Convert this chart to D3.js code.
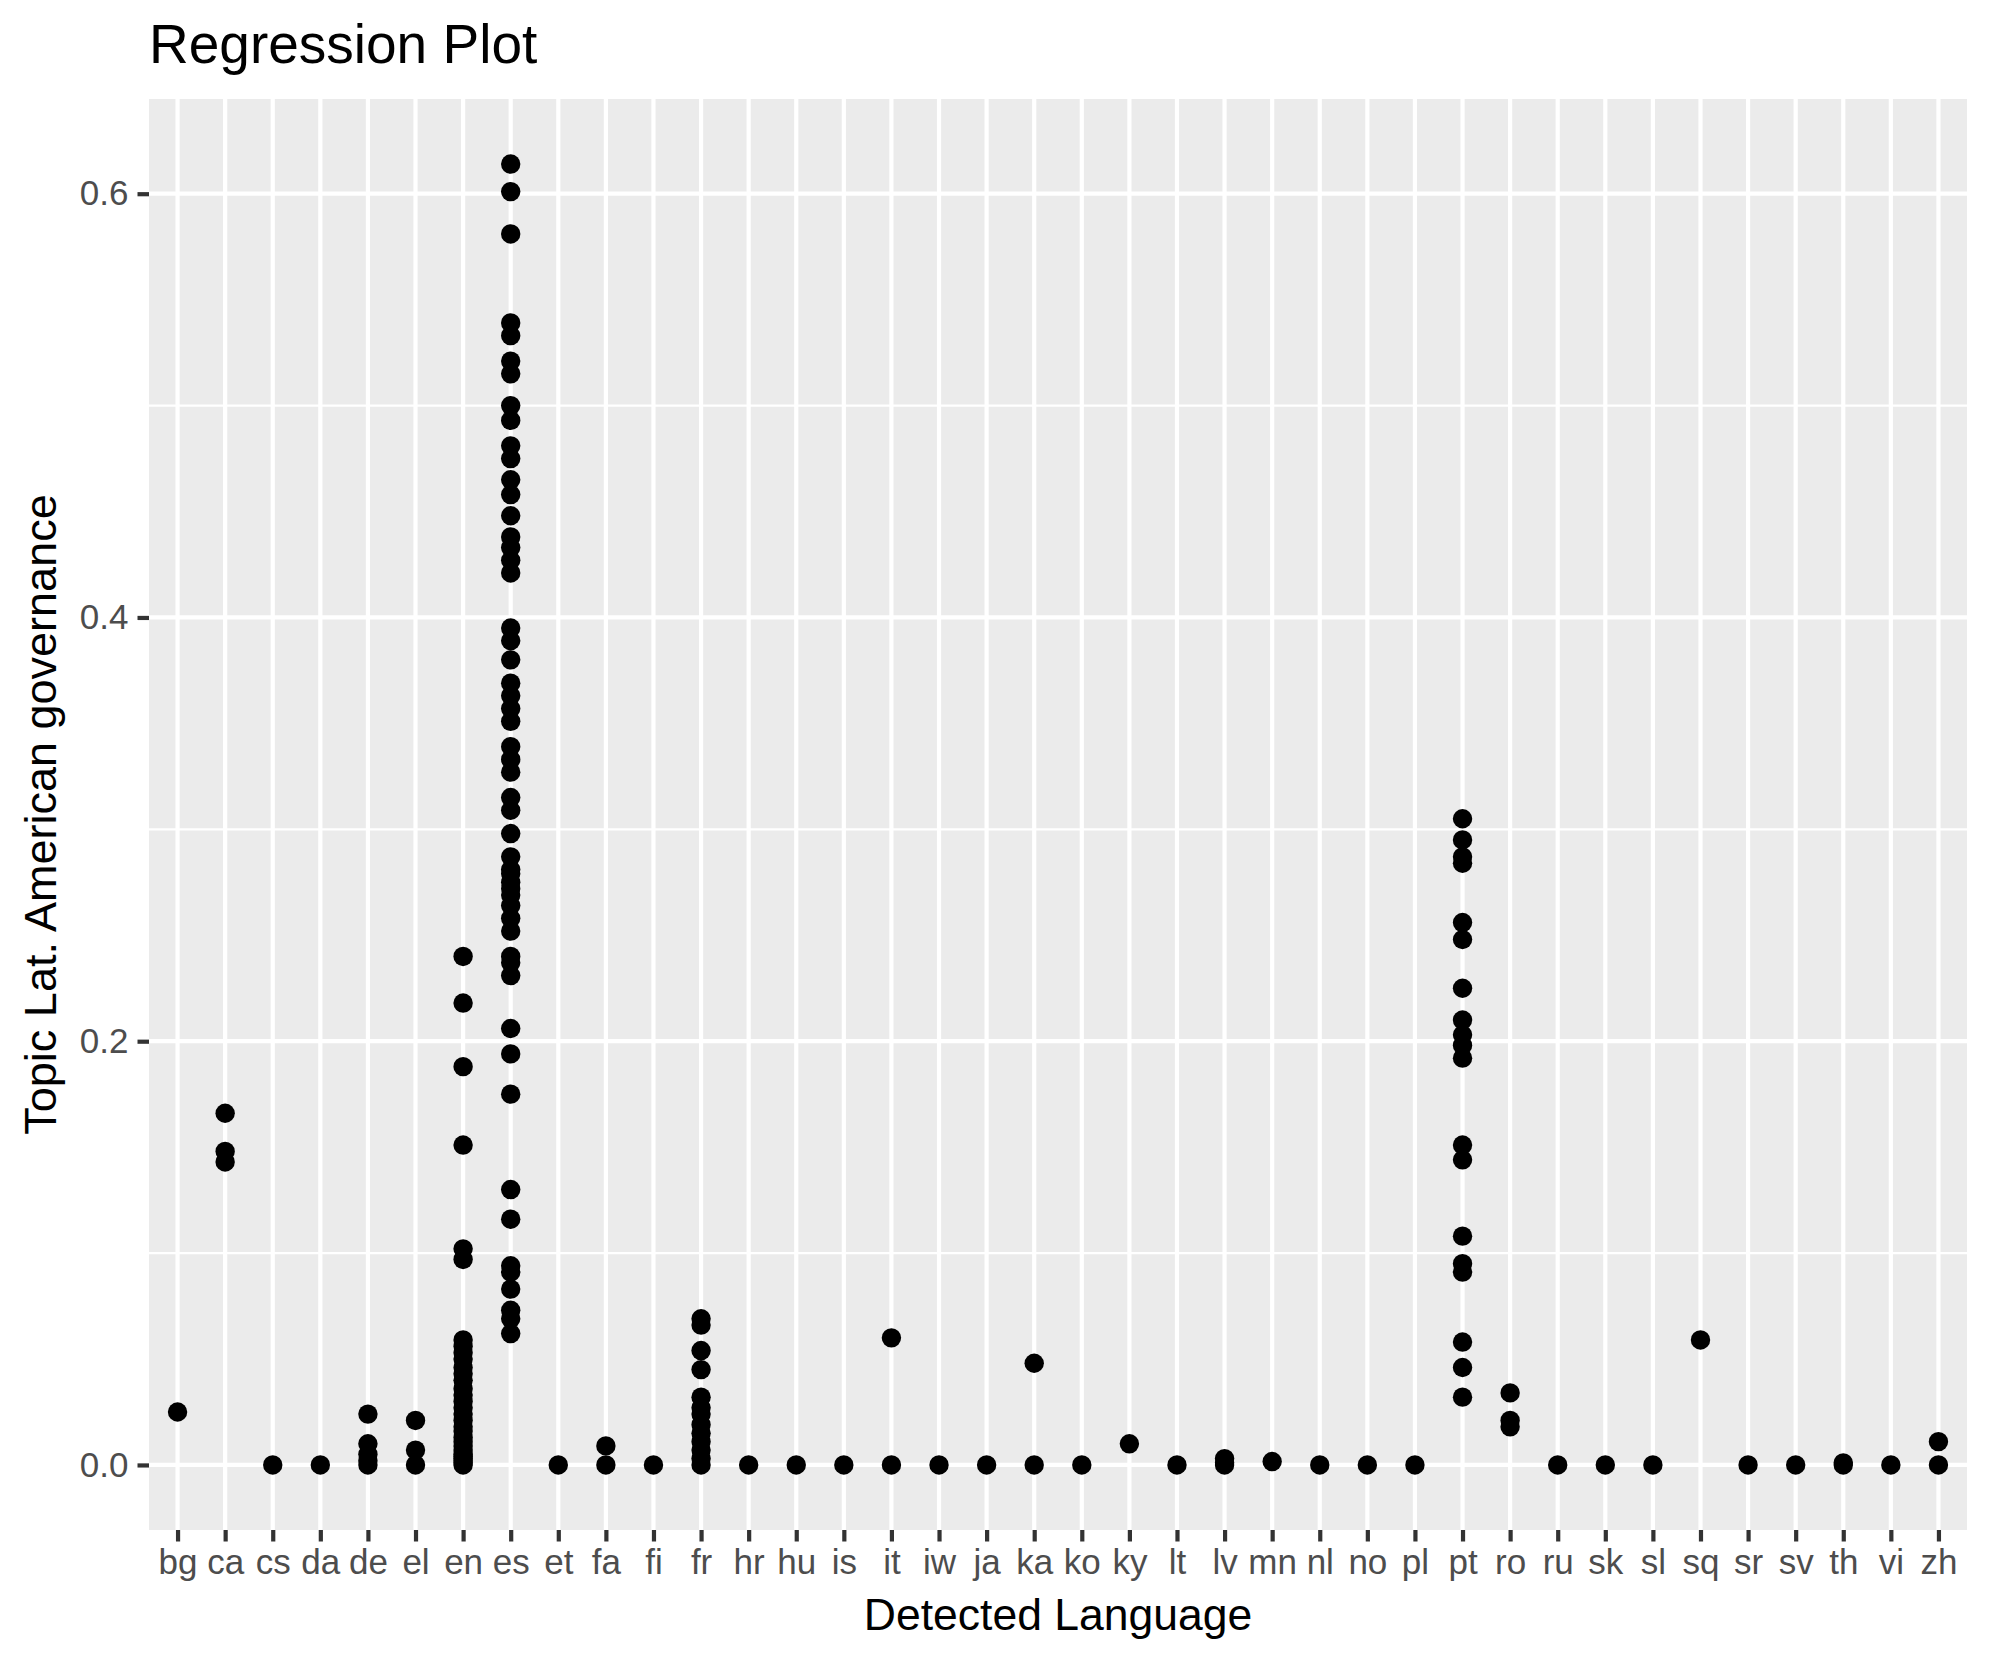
<!DOCTYPE html>
<html>
<head>
<meta charset="utf-8">
<script src="https://cdn.jsdelivr.net/npm/d3@7"></script>
<style>
  html, body { margin: 0; padding: 0; background: #fff; }
  svg { display: block; }
</style>
</head>
<body>
<svg id="chart" width="1990" height="1665"></svg>
<script>
// ---- data ----
const categories = ["bg","ca","cs","da","de","el","en","es","et","fa","fi","fr","hr","hu","is","it","iw","ja","ka","ko","ky","lt","lv","mn","nl","no","pl","pt","ro","ru","sk","sl","sq","sr","sv","th","vi","zh"];

const seriesValues = [
  [0.025],                                   // bg
  [0.166, 0.148, 0.143],                     // ca
  [0],                                       // cs
  [0],                                       // da
  [0.024, 0.010, 0.005, 0.002, 0],           // de
  [0.021, 0.007, 0],                         // el
  [0.240, 0.218, 0.188, 0.151, 0.102, 0.097, 0.059, 0.056, 0.053, 0.050, 0.046, 0.043, 0.040, 0.036, 0.033, 0.030, 0.027, 0.024, 0.021, 0.018, 0.016, 0.013, 0.011, 0.009, 0.007, 0.005, 0.004, 0.003, 0.002, 0.001, 0], // en
  [0.614, 0.601, 0.581, 0.539, 0.533, 0.521, 0.515, 0.500, 0.493, 0.481, 0.475, 0.465, 0.458, 0.448, 0.438, 0.433, 0.427, 0.421, 0.395, 0.389, 0.380, 0.369, 0.363, 0.357, 0.351, 0.339, 0.333, 0.327, 0.315, 0.309, 0.298, 0.287, 0.281, 0.275, 0.269, 0.279, 0.272, 0.264, 0.258, 0.252, 0.240, 0.237, 0.231, 0.206, 0.194, 0.175, 0.130, 0.116, 0.094, 0.091, 0.083, 0.073, 0.069, 0.062], // es
  [0],                                       // et
  [0.009, 0],                                // fa
  [0],                                       // fi
  [0.069, 0.066, 0.054, 0.045, 0.032, 0.027, 0.024, 0.019, 0.015, 0.011, 0.007, 0.003, 0], // fr
  [0],                                       // hr
  [0],                                       // hu
  [0],                                       // is
  [0.060, 0],                                // it
  [0],                                       // iw
  [0],                                       // ja
  [0.048, 0],                                // ka
  [0],                                       // ko
  [0.010],                                   // ky
  [0],                                       // lt
  [0.003, 0.001, 0],                         // lv
  [0.0016],                                  // mn
  [0],                                       // nl
  [0],                                       // no
  [0],                                       // pl
  [0.305, 0.295, 0.287, 0.284, 0.256, 0.248, 0.225, 0.210, 0.203, 0.198, 0.192, 0.151, 0.144, 0.108, 0.095, 0.091, 0.058, 0.046, 0.032], // pt
  [0.034, 0.021, 0.018],                     // ro
  [0],                                       // ru
  [0],                                       // sk
  [0],                                       // sl
  [0.059],                                   // sq
  [0],                                       // sr
  [0],                                       // sv
  [0.001, 0],                                // th
  [0],                                       // vi
  [0.011, 0]                                 // zh
];

const yMajorTicks = [0.0, 0.2, 0.4, 0.6];
const yMinorTicks = [0.1, 0.3, 0.5];
const yTickLabels = ["0.0", "0.2", "0.4", "0.6"];

const titleText = "Regression Plot";
const xTitleText = "Detected Language";
const yTitleText = "Topic Lat. American governance";

// ---- layout ----
const svg = d3.select("#chart");
const panel = { left: 149, right: 1967, top: 99, bottom: 1530 };
const font = "'Liberation Sans', Arial, Helvetica, sans-serif";

const points = [];
categories.forEach((c, i) => seriesValues[i].forEach(v => points.push({ c, v })));

const yMax = d3.max(points, d => d.v);
const yMin = 0;
const pad = (yMax - yMin) * 0.05;

const x = d3.scalePoint().domain(categories)
  .range([panel.left, panel.right]).padding(0.6);
const y = d3.scaleLinear().domain([yMin - pad, yMax + pad])
  .range([panel.bottom, panel.top]);

// panel background
svg.append("rect")
  .attr("x", panel.left).attr("y", panel.top)
  .attr("width", panel.right - panel.left)
  .attr("height", panel.bottom - panel.top)
  .attr("fill", "#EBEBEB");

const grid = svg.append("g");
grid.selectAll("line.minor").data(yMinorTicks).join("line")
  .attr("x1", panel.left).attr("x2", panel.right)
  .attr("y1", d => y(d)).attr("y2", d => y(d))
  .attr("stroke", "#fff").attr("stroke-width", 2.1);
grid.selectAll("line.majory").data(yMajorTicks).join("line")
  .attr("x1", panel.left).attr("x2", panel.right)
  .attr("y1", d => y(d)).attr("y2", d => y(d))
  .attr("stroke", "#fff").attr("stroke-width", 4.2);
grid.selectAll("line.majorx").data(categories).join("line")
  .attr("x1", d => x(d)).attr("x2", d => x(d))
  .attr("y1", panel.top).attr("y2", panel.bottom)
  .attr("stroke", "#fff").attr("stroke-width", 4.2);

// points
svg.append("g").selectAll("circle").data(points).join("circle")
  .attr("cx", d => x(d.c)).attr("cy", d => y(d.v))
  .attr("r", 9.7).attr("fill", "#000");

// x axis
const xAxis = d3.axisBottom(x).tickSize(11.5).tickPadding(8);
const gx = svg.append("g").attr("transform", `translate(0,${panel.bottom})`).call(xAxis);
gx.select(".domain").remove();
gx.selectAll(".tick line").attr("stroke", "#333333").attr("stroke-width", 4.2);
gx.selectAll(".tick text").attr("fill", "#4D4D4D")
  .style("font-family", font).style("font-size", "35px");

// y axis
const yAxis = d3.axisLeft(y).tickValues(yMajorTicks)
  .tickFormat((d, i) => yTickLabels[i]).tickSize(11.5).tickPadding(9);
const gy = svg.append("g").attr("transform", `translate(${panel.left},0)`).call(yAxis);
gy.select(".domain").remove();
gy.selectAll(".tick line").attr("stroke", "#333333").attr("stroke-width", 4.2);
gy.selectAll(".tick text").attr("fill", "#4D4D4D")
  .style("font-family", font).style("font-size", "35px");

// titles
svg.append("text").text(titleText)
  .attr("x", panel.left).attr("y", 63)
  .style("font-family", font).style("font-size", "55px").attr("fill", "#000");

svg.append("text").text(xTitleText)
  .attr("x", (panel.left + panel.right) / 2).attr("y", 1630)
  .attr("text-anchor", "middle")
  .style("font-family", font).style("font-size", "44.5px").attr("fill", "#000");

svg.append("text").text(yTitleText)
  .attr("transform", `translate(56,${(panel.top + panel.bottom) / 2}) rotate(-90)`)
  .attr("text-anchor", "middle")
  .style("font-family", font).style("font-size", "45px").attr("fill", "#000");
</script>
</body>
</html>
